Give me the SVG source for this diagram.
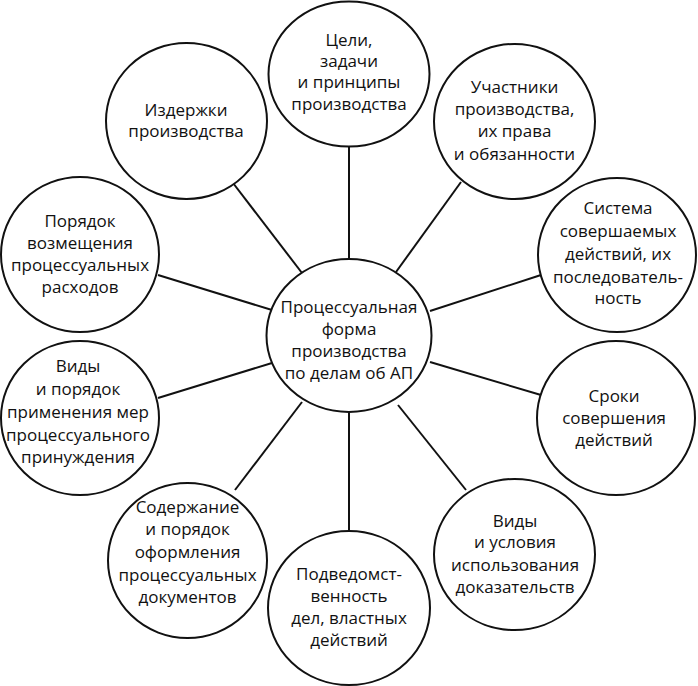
<svg xmlns="http://www.w3.org/2000/svg" width="698" height="686" viewBox="0 0 698 686">
<style>
.n{fill:#fff;stroke:#111;stroke-width:2}
.c line{stroke:#111;stroke-width:2}
text{font-family:"Open Sans","Noto Sans","DejaVu Sans",sans-serif;font-size:17px;fill:#111;text-anchor:middle}
</style>
<rect width="698" height="686" fill="#fff"/>
<g id="connectors" class="c">
<line x1="349" y1="146" x2="349" y2="259"/>
<line x1="233" y1="183" x2="302" y2="273"/>
<line x1="158" y1="275" x2="272" y2="310"/>
<line x1="461" y1="182" x2="396" y2="272"/>
<line x1="541" y1="275" x2="430" y2="311"/>
<line x1="430" y1="362" x2="541" y2="395"/>
<line x1="398" y1="405" x2="466" y2="490"/>
<line x1="349" y1="412" x2="349" y2="531"/>
<line x1="302" y1="402" x2="235" y2="490"/>
<line x1="272" y1="363" x2="158" y2="398"/>
</g>
<g id="center">
<ellipse class="n" cx="349" cy="335.5" rx="82.5" ry="76.5"/>
<text x="349" y="313">Процессуальная</text>
<text x="349" y="335">форма</text>
<text x="349" y="357">производства</text>
<text x="349" y="379">по делам об АП</text>
</g>
<g id="n1">
<ellipse class="n" cx="349" cy="74" rx="80.5" ry="72.5"/>
<text x="349" y="46">Цели,</text>
<text x="349" y="67">задачи</text>
<text x="349" y="88">и принципы</text>
<text x="349" y="110">производства</text>
</g>
<g id="n2">
<ellipse class="n" cx="514.5" cy="121.5" rx="80.5" ry="77.5"/>
<text x="514.5" y="93">Участники</text>
<text x="514.5" y="115">производства,</text>
<text x="514.5" y="137">их права</text>
<text x="514.5" y="160">и обязанности</text>
</g>
<g id="n3">
<ellipse class="n" cx="617" cy="255" rx="79" ry="77"/>
<text x="618" y="214">Система</text>
<text x="618" y="237">совершаемых</text>
<text x="618" y="260">действий, их</text>
<text x="618" y="283">последователь-</text>
<text x="618" y="304">ность</text>
</g>
<g id="n4">
<ellipse class="n" cx="616" cy="418" rx="79" ry="77"/>
<text x="614" y="402">Сроки</text>
<text x="614" y="424">совершения</text>
<text x="614" y="446">действий</text>
</g>
<g id="n5">
<ellipse class="n" cx="514.5" cy="554.5" rx="80.5" ry="75.5"/>
<text x="515" y="527">Виды</text>
<text x="515" y="548">и условия</text>
<text x="515" y="571">использования</text>
<text x="515" y="593">доказательств</text>
</g>
<g id="n6">
<ellipse class="n" cx="349" cy="608" rx="81" ry="77"/>
<text x="349" y="580">Подведомст-</text>
<text x="349" y="602">венность</text>
<text x="349" y="624">дел, властных</text>
<text x="349" y="646">действий</text>
</g>
<g id="n7">
<ellipse class="n" cx="187.5" cy="560.5" rx="79.5" ry="77.5"/>
<text x="187.5" y="513">Содержание</text>
<text x="187.5" y="535">и порядок</text>
<text x="187.5" y="558">оформления</text>
<text x="187.5" y="581">процессуальных</text>
<text x="187.5" y="603">документов</text>
</g>
<g id="n8">
<ellipse class="n" cx="80" cy="418" rx="79" ry="77"/>
<text x="78" y="372">Виды</text>
<text x="78" y="395">и порядок</text>
<text x="78" y="418">применения мер</text>
<text x="78" y="441">процессуального</text>
<text x="78" y="463">принуждения</text>
</g>
<g id="n9">
<ellipse class="n" cx="80" cy="254.5" rx="79" ry="77.5"/>
<text x="80" y="227">Порядок</text>
<text x="80" y="249">возмещения</text>
<text x="80" y="271">процессуальных</text>
<text x="80" y="293">расходов</text>
</g>
<g id="n10">
<ellipse class="n" cx="186.5" cy="121" rx="80.5" ry="78"/>
<text x="186" y="116">Издержки</text>
<text x="186" y="137">производства</text>
</g>
</svg>
